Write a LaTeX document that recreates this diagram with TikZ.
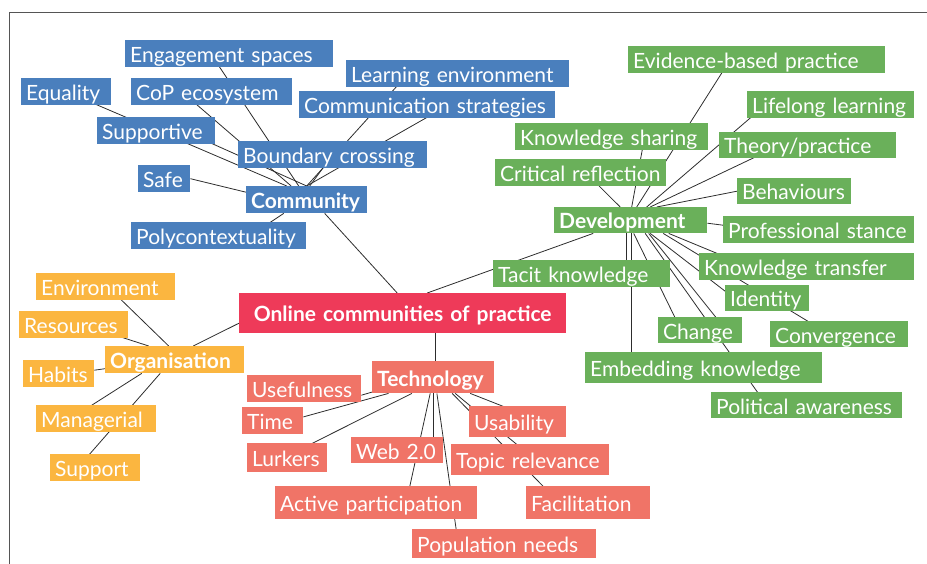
\documentclass[tikz,border=0pt]{standalone}
\usepackage{fontspec}
\setmainfont{Lato}
\usepackage{tikz}
\usetikzlibrary{backgrounds}
\definecolor{communityBlue}{RGB}{74,127,189}
\definecolor{developmentGreen}{RGB}{106,176,90}
\definecolor{organisationOrange}{RGB}{251,182,64}
\definecolor{technologySalmon}{RGB}{240,116,103}
\definecolor{rootRed}{RGB}{238,58,89}
\definecolor{frameGray}{RGB}{85,85,85}
\definecolor{linkGray}{RGB}{45,45,45}
\tikzstyle{pixelCanvas} = [x = 1pt, y = -1pt]
\tikzstyle{mapBox} = [anchor=north west, text=white, inner xsep=5pt, inner ysep=0pt, align=left, text height=18pt, text depth=0.4pt, font=\fontsize{21}{24}\selectfont]
\tikzstyle{blueBox} = [mapBox, fill=communityBlue]
\tikzstyle{greenBox} = [mapBox, fill=developmentGreen]
\tikzstyle{orangeBox} = [mapBox, fill=organisationOrange]
\tikzstyle{salmonBox} = [mapBox, fill=technologySalmon]
\tikzstyle{hubText} = [font=\fontsize{21}{24}\selectfont\bfseries]
\tikzstyle{linkLine} = [color=linkGray, line width=0.8pt]
\tikzstyle{frameLine} = [color=frameGray, line width=0.9pt]
% #1 style, #2 name, #3 x, #4 y, #5 width, #6 height, #7 text
\newcommand{\mapBox}[7]{
  \pgfmathsetmacro{\boxTextWidth}{#5 - 10}
  \node [#1, text width=\boxTextWidth pt, minimum height=#6pt] (#2) at (#3,#4) {\mbox{#7}};
}
\begin{document}
\begin{tikzpicture}[pixelCanvas]
  \useasboundingbox (0,0) rectangle (927,564);
  \draw [frameLine] (927,12) -- (9,12) -- (9,564);

  % centre
  \mapBox{salmonBox, fill=rootRed, hubText, align=center}{root}{239}{293}{327}{40}{Online communities of practice}

  % community branch
  \mapBox{blueBox}{engagement}{125}{40}{208}{27}{Engagement spaces}
  \mapBox{blueBox}{equality}{21}{78}{90}{27}{Equality}
  \mapBox{blueBox}{cop}{131}{78}{161}{27}{CoP ecosystem}
  \mapBox{blueBox}{learning}{346}{60}{223}{27}{Learning environment}
  \mapBox{blueBox}{communication}{299}{91}{256}{27}{Communication strategies}
  \mapBox{blueBox}{supportive}{97}{117}{118}{27}{Supportive}
  \mapBox{blueBox}{boundary}{238}{141}{189}{27}{Boundary crossing}
  \mapBox{blueBox}{safe}{138}{165}{52}{27}{Safe}
  \mapBox{blueBox, hubText}{comm}{246}{186}{121}{27}{Community}
  \mapBox{blueBox}{poly}{131}{222}{175}{27}{Polycontextuality}

  % development branch
  \mapBox{greenBox}{evidence}{628}{46}{257}{27}{Evidence-based practice}
  \mapBox{greenBox}{lifelong}{747}{91}{167}{27}{Lifelong learning}
  \mapBox{greenBox}{sharing}{515}{123}{193}{27}{Knowledge sharing}
  \mapBox{greenBox}{theory}{719}{132}{177}{26}{Theory/practice}
  \mapBox{greenBox}{critical}{495}{159}{171}{27}{Critical reflection}
  \mapBox{greenBox}{behaviours}{737}{178}{114}{26}{Behaviours}
  \mapBox{greenBox, hubText}{dev}{554}{207}{153}{26}{Development}
  \mapBox{greenBox}{stance}{723}{216}{191}{27}{Professional stance}
  \mapBox{greenBox}{transfer}{699}{253}{215}{27}{Knowledge transfer}
  \mapBox{greenBox}{tacit}{493}{260}{177}{27}{Tacit knowledge}
  \mapBox{greenBox}{identity}{725}{285}{84}{26}{Identity}
  \mapBox{greenBox}{change}{658}{317}{84}{26}{Change}
  \mapBox{greenBox}{convergence}{770}{321}{138}{26}{Convergence}
  \mapBox{greenBox}{embedding}{585}{352}{237}{31}{Embedding knowledge}
  \mapBox{greenBox}{political}{711}{392}{191}{26}{Political awareness}

  % organisation branch
  \mapBox{orangeBox}{environment}{36}{273}{139}{27}{Environment}
  \mapBox{orangeBox}{resources}{19}{311}{109}{27}{Resources}
  \mapBox{orangeBox, hubText}{org}{105}{346}{139}{27}{Organisation}
  \mapBox{orangeBox}{habits}{23}{360}{71}{27}{Habits}
  \mapBox{orangeBox}{managerial}{36}{405}{120}{27}{Managerial}
  \mapBox{orangeBox}{support}{50}{454}{90}{27}{Support}

  % technology branch
  \mapBox{salmonBox, hubText}{tech}{372}{361}{122}{32}{Technology}
  \mapBox{salmonBox}{useful}{247}{375}{114}{27}{Usefulness}
  \mapBox{salmonBox}{time}{242}{407}{61}{27}{Time}
  \mapBox{salmonBox}{lurkers}{247}{443}{80}{29}{Lurkers}
  \mapBox{salmonBox}{web}{351}{437}{92}{26}{Web 2.0}
  \mapBox{salmonBox}{usability}{469}{406}{97}{31}{Usability}
  \mapBox{salmonBox}{topic}{451}{444}{158}{31}{Topic relevance}
  \mapBox{salmonBox}{active}{275}{486}{202}{33}{Active participation}
  \mapBox{salmonBox}{facilitation}{526}{486}{124}{33}{Facilitation}
  \mapBox{salmonBox}{population}{412}{529}{184}{29}{Population needs}

  \begin{pgfonlayer}{background}
    % community links
    \draw [linkLine] ([xshift=-20pt]comm.north) -- (equality.center);
    \draw [linkLine] (comm.north) -- ([xshift=27pt]supportive.center);
    \draw [linkLine] ([xshift=-15.5pt]comm.north) -- ([xshift=-30pt]cop.center);
    \draw [linkLine] ([xshift=-8pt]comm.north) -- ([xshift=-18.5pt]engagement.center);
    \draw [linkLine] (comm.north) -- ([xshift=-49.5pt]learning.center);
    \draw [linkLine] (comm.north) -- ([xshift=22pt]communication.center);
    \draw [linkLine] ([xshift=3pt]comm.north) -- (boundary.center);
    \draw [linkLine] ([yshift=7.5pt]comm.west) -- (safe.east);
    \draw [linkLine] ([xshift=-23pt]comm.south) -- ([xshift=31.5pt]poly.center);
    \draw [linkLine] ([xshift=18pt]comm.south) -- ([xshift=-5.5pt]root.north);

    % development links
    \draw [linkLine] ([xshift=24.5pt]root.north) -- ([xshift=-37.5pt]dev.south);
    \draw [linkLine] ([xshift=-10.5pt]dev.north) -- ([xshift=5pt]critical.center);
    \draw [linkLine] ([xshift=1pt]dev.north) -- ([xshift=33pt]sharing.center);
    \draw [linkLine] ([xshift=6pt]dev.north) -- ([xshift=-26.5pt]evidence.center);
    \draw [linkLine] ([xshift=16pt]dev.north) -- ([xshift=-65pt]lifelong.center);
    \draw [linkLine] ([xshift=19.5pt]dev.north) -- ([xshift=-27.5pt]theory.center);
    \draw [linkLine] ([xshift=26pt]dev.north) -- (behaviours.west);
    \draw [linkLine] ([yshift=-3pt]dev.east) -- ([yshift=4.5pt]stance.west);
    \draw [linkLine] ([xshift=-4pt]dev.south) -- ([xshift=-4pt]dev.south |- tacit.center);
    \draw [linkLine] ([xshift=0.5pt]dev.south) -- ([xshift=0.5pt]dev.south |- embedding.center);
    \draw [linkLine] ([xshift=3pt]dev.south) -- ([xshift=-19pt]change.center);
    \draw [linkLine] ([xshift=18pt]dev.south) -- ([xshift=26pt]change.center);
    \draw [linkLine] ([xshift=14.5pt]dev.south) -- ([xshift=-40pt]political.center);
    \draw [linkLine] ([xshift=19.5pt]dev.south) -- ([xshift=-33pt]identity.center);
    \draw [linkLine] ([xshift=32.5pt]dev.south) -- ([xshift=-10pt]convergence.center);
    \draw [linkLine] ([xshift=38pt]dev.south) -- ([xshift=-57.5pt]transfer.center);

    % organisation links
    \draw [linkLine] ([xshift=18.5pt]org.north) -- ([yshift=-10pt]root.west);
    \draw [linkLine] ([xshift=-6pt]org.north) -- ([xshift=2pt]environment.center);
    \draw [linkLine] ([xshift=-26pt]org.north) -- ([xshift=9pt]resources.center);
    \draw [linkLine] ([yshift=-9pt]org.west) -- ([yshift=3.5pt]habits.east);
    \draw [linkLine] ([xshift=-33pt]org.south) -- ([xshift=-25.6pt]managerial.center);
    \draw [linkLine] ([xshift=-14.5pt]org.south) -- ([xshift=-17.4pt]support.center);

    % technology links
    \draw [linkLine] ([xshift=2pt]tech.north) -- ([xshift=2pt]tech.north |- root.south);
    \draw [linkLine] ([yshift=1.3pt]tech.south west) -- ([yshift=-6.5pt]useful.east);
    \draw [linkLine] ([xshift=-44.7pt]tech.south) -- ([yshift=3.8pt]time.east);
    \draw [linkLine] ([xshift=-21.3pt]tech.south) -- ([xshift=-3.6pt]lurkers.center);
    \draw [linkLine] (tech.south) -- (tech.south |- web.center);
    \draw [linkLine] ([xshift=-3pt]tech.south) -- ([xshift=30pt]active.center);
    \draw [linkLine] ([xshift=3.7pt]tech.south) -- ([xshift=-46pt]population.center);
    \draw [linkLine] ([xshift=37pt]tech.south) -- ([xshift=24.5pt]usability.center);
    \draw [linkLine] ([xshift=22pt]tech.south) -- ([xshift=5pt]topic.center);
    \draw [linkLine] ([xshift=19pt]tech.south) -- ([xshift=-29pt]facilitation.center);
  \end{pgfonlayer}
\end{tikzpicture}
\end{document}
